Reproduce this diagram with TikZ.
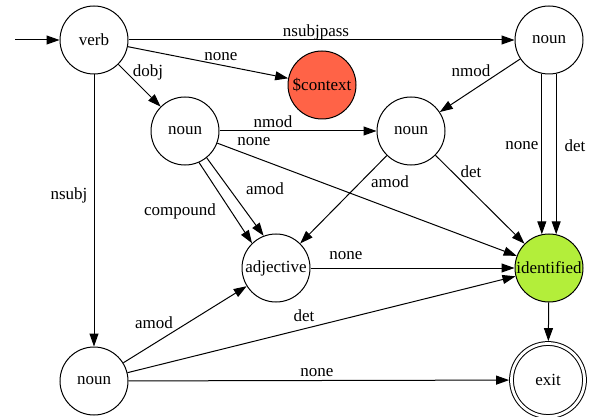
\documentclass[tikz,border=0pt]{standalone}
\usepackage{fontspec}
\setmainfont[Ligatures=NoCommon]{Liberation Serif}
\newfontfamily\gvfont[Ligatures=NoCommon]{Liberation Serif}
\usetikzlibrary{arrows.meta}
\definecolor{tomato}{HTML}{FF6347}
\definecolor{olivedrabtwo}{HTML}{B3EE3A}
\begin{document}
\begin{tikzpicture}[x=1pt,y=-1pt,
  every path/.style={line width=1pt},
  st/.style={circle,draw,line width=1pt,minimum size=68pt,inner sep=0pt,font=\gvfont\fontsize{17}{20}\selectfont},
  lbl/.style={inner sep=0pt,font=\gvfont\fontsize{17}{20}\selectfont},
  arr/.style={-{Triangle[length=13pt,width=9pt]}}]
\useasboundingbox (0,0) rectangle (592,417);
\node[st] (verb) at (94,40) {verb};
\node[st,fill=tomato] (ctx) at (322,85) {\$context};
\node[st] (n1) at (185,131) {noun};
\node[st] (ntr) at (549,40) {noun};
\node[st] (nmid) at (411,131) {noun};
\node[st] (adj) at (276,268) {adjective};
\node[st,fill=olivedrabtwo] (ident) at (549,268) {identified};
\node[st] (nbot) at (94,381) {noun};
\node[st,minimum size=73pt,double,double distance=2.8pt,outer sep=2.4pt] (exit) at (548,380) {exit};
\coordinate (start) at (15,40);

\draw[arr] (start) -- (verb);
\draw[arr] (verb) -- (ntr) node[lbl] at (316,32) {nsubjpass};
\draw[arr] (verb) -- (ctx) node[lbl] at (221,57) {none};
\draw[arr] (verb) -- (n1) node[lbl] at (148,72) {dobj};
\draw[arr] (verb) -- (nbot) node[lbl] at (69,195) {nsubj};
\draw[arr] (n1) -- (nmid) node[lbl] at (273,122) {nmod};
\draw[arr] (n1) -- (ident) node[lbl] at (254,142) {none};
\draw[arr] (n1.-66) -- (adj.134) node[lbl] at (180,211) {compound};
\draw[arr] (n1.-51) -- (adj.111) node[lbl] at (265,189) {amod};
\draw[arr] (nmid) -- (adj) node[lbl] at (390,182) {amod};
\draw[arr] (nmid) -- (ident) node[lbl] at (471,172) {det};
\draw[arr] (ntr) -- (nmid) node[lbl] at (471,71) {nmod};
\draw[arr] (ntr.-102) -- (ident.102) node[lbl] at (522,146) {none};
\draw[arr] (ntr.-78) -- (ident.78) node[lbl] at (575,146) {det};
\draw[arr] (adj) -- (ident) node[lbl] at (346,256) {none};
\draw[arr] (nbot) -- (adj) node[lbl] at (154,323) {amod};
\draw[arr] (nbot) -- (ident) node[lbl] at (304,316) {det};
\draw[arr] (nbot) -- (exit) node[lbl] at (317,373) {none};
\draw[arr] (ident) -- (exit);
\end{tikzpicture}
\end{document}
